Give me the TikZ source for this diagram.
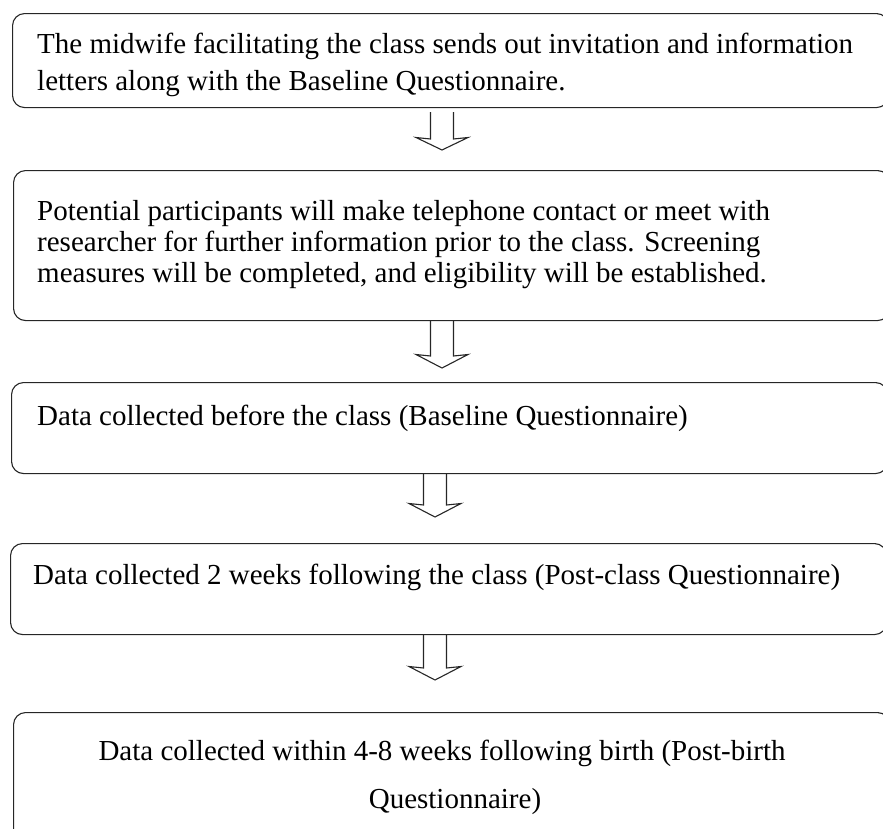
\documentclass[tikz,border=0pt]{standalone}
\usepackage{fontspec}
\setmainfont{Liberation Serif}
\usetikzlibrary{calc}

% outlined block arrow pointing down: #1 centre x, #2 top y, #3 head base y, #4 tip y
\newcommand\blockarr[4]{%
  \draw[arrowline] (#1-11.5,#2) -- (#1-11.5,#3) -- (#1-26,#3+1.5) -- (#1,#4)
    -- (#1+26,#3+1.5) -- (#1+11.5,#3) -- (#1+11.5,#2);}

\begin{document}
\begin{tikzpicture}[x=1pt,y=1pt,
  stepbox/.style={draw=black!85, line width=1.1pt, rounded corners=12pt,
    anchor=north west, inner sep=0pt, minimum width=876pt},
  txt/.style={anchor=base west, inner sep=0pt, font=\fontsize{29}{33}\selectfont},
  ctxt/.style={anchor=base, inner sep=0pt, font=\fontsize{29}{33}\selectfont},
  arrowline/.style={draw=black!85, line width=1.1pt, line join=miter}]
\clip (0,0) rectangle (883,-828);

% boxes
\node[stepbox, minimum height=94pt]  (b1) at (12,-13)  {};
\node[stepbox, minimum height=150pt] (b2) at (13,-170) {};
\node[stepbox, minimum height=91pt]  (b3) at (11,-382) {};
\node[stepbox, minimum height=91pt]  (b4) at (10,-543) {};
\node[stepbox, minimum height=130pt] (b5) at (13,-712) {};

% texts
\node[txt] (t1a) at (37,-53) {The midwife facilitating the class sends out invitation and information};
\node[txt] (t1b) at (37,-90) {letters along with the Baseline Questionnaire.};
\node[txt] (t2a) at (37,-220) {Potential participants will make telephone contact or meet with};
\node[txt] (t2b) at (37,-251) {researcher for further information prior to the class. Screening};
\node[txt] (t2c) at (37,-282) {measures will be completed, and eligibility will be established.};
\node[txt] (t3) at (37,-425) {Data collected before the class (Baseline Questionnaire)};
\node[txt] (t4) at (33,-584) {Data collected 2 weeks following the class (Post-class Questionnaire)};
\node[ctxt] (t5a) at (442,-760) {Data collected within 4-8 weeks following birth (Post-birth};
\node[ctxt] (t5b) at (455,-808) {Questionnaire)};

% arrows between the steps
\blockarr{442}{-112}{-139}{-150}
\blockarr{442}{-320}{-356}{-368}
\blockarr{435}{-473}{-505}{-517}
\blockarr{435}{-634}{-668}{-680}
\end{tikzpicture}
\end{document}
